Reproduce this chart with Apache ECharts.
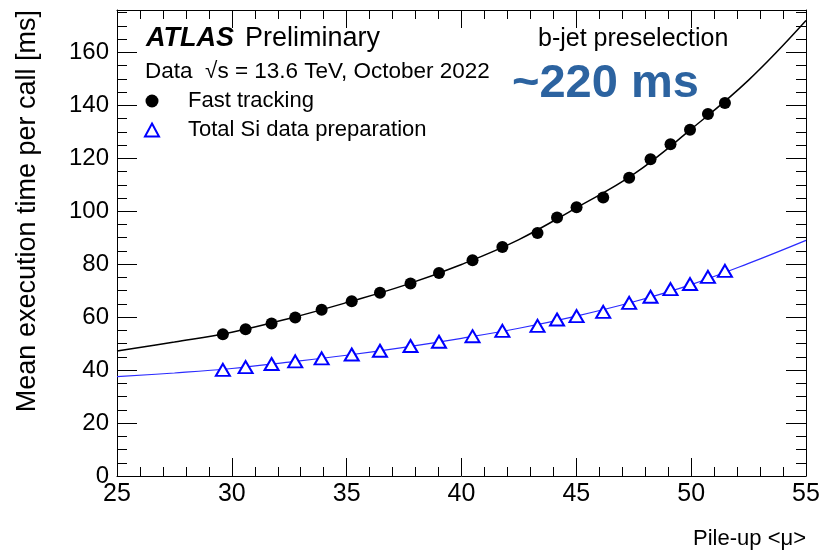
<!DOCTYPE html>
<html>
<head>
<meta charset="utf-8">
<script src="https://cdn.jsdelivr.net/npm/echarts@6/dist/echarts.min.js"></script>
<style>
  html, body { margin: 0; padding: 0; background: #fff; }
  #chart { width: 827px; height: 556px; }
</style>
</head>
<body>
<div id="chart"></div>
<script>
// pile-up values of the measured points (same for both series)
var pileUp = [29.61, 30.60, 31.73, 32.76, 33.91, 35.22, 36.45, 37.78, 39.02, 40.48, 41.78,
  43.31, 44.16, 45.01, 46.17, 47.30, 48.23, 49.10, 49.95, 50.73, 51.47]
// mean execution time per call [ms]
var fastTracking = [53.5, 55.4, 57.6, 59.9, 62.8, 66.0, 69.2, 72.7, 76.7, 81.5, 86.5,
  91.8, 97.6, 101.5, 105.2, 112.6, 119.6, 125.3, 130.8, 136.7, 140.9]
var siDataPrep = [40.1, 41.1, 42.3, 43.3, 44.4, 45.9, 47.3, 49.1, 50.7, 52.8, 54.8,
  56.7, 59.1, 60.4, 62.0, 65.4, 67.7, 70.6, 72.5, 75.2, 77.5]

// fit curves
var fitPileUp = [25, 27.5, 30, 32.5, 35, 37.5, 40, 42.5, 45, 47.5, 50, 52.5, 55]
var fastFit = [47.2, 50.6, 54.3, 59.5, 65.5, 72.0, 79.9, 89.3, 101.3, 114.0, 131.0, 149.5, 172.0]
var siFit = [37.5, 38.9, 40.6, 43.0, 45.6, 48.6, 52.0, 55.8, 60.4, 65.8, 72.3, 80.3, 89.0]

var seriesNames = ['Fast tracking', 'Total Si data preparation']

function pairs(xs, ys) {
  return xs.map(function (x, i) { return [x, ys[i]] })
}

var font = "'Liberation Sans', Arial, Helvetica, sans-serif"

var chart = echarts.init(document.getElementById('chart'), null, { renderer: 'canvas' })

function xAx(pos, labels) {
  return {
    type: 'value', position: pos, min: 25, max: 55, interval: 5,
    axisLine: { show: true, onZero: false, lineStyle: { color: '#000', width: 1 } },
    axisTick: { show: true, inside: true, length: 18, lineStyle: { color: '#000' } },
    minorTick: { show: true, splitNumber: 5, length: 9, lineStyle: { color: '#000' } },
    axisLabel: { show: labels, color: '#000', fontFamily: font, fontSize: 25, margin: 6 },
    splitLine: { show: false }
  }
}
function yAx(pos, step, tickLen, labels, line) {
  return {
    type: 'value', position: pos, min: 0, max: 176, interval: step,
    axisLine: { show: line, onZero: false, lineStyle: { color: '#000', width: 1 } },
    axisTick: { show: true, inside: true, length: tickLen, lineStyle: { color: '#000' } },
    axisLabel: { show: labels, color: '#000', fontFamily: font, fontSize: 24, margin: 8, showMaxLabel: false },
    splitLine: { show: false }
  }
}

var option = {
  backgroundColor: '#fff',
  animation: false,
  grid: { left: 117, right: 21, top: 10, bottom: 80, outerBoundsMode: 'none' },
  xAxis: [xAx('bottom', true), xAx('top', false)],
  yAxis: [
    yAx('left', 20, 20, true, true),
    yAx('left', 5, 10, false, false),
    yAx('right', 20, 20, false, true),
    yAx('right', 5, 10, false, false)
  ],
  legend: {
    data: seriesNames,
    orient: 'vertical',
    left: 144, top: 90, padding: 0,
    itemWidth: 14, itemHeight: 13, itemGap: 7,
    textStyle: { color: '#000', fontFamily: font, fontSize: 22, lineHeight: 22, padding: [0, 0, 0, 24] }
  },
  graphic: [
    { type: 'text', left: 146, top: 25, style: { text: 'ATLAS', font: 'italic bold 27px ' + font, fill: '#000' } },
    { type: 'text', left: 245, top: 25, style: { text: 'Preliminary', font: '27px ' + font, fill: '#000' } },
    { type: 'text', left: 145, top: 60, style: { text: 'Data  √s = 13.6 TeV, October 2022', font: '22.5px ' + font, fill: '#000' } },
    { type: 'text', left: 538, top: 27, style: { text: 'b-jet preselection', font: '25px ' + font, fill: '#000' } },
    { type: 'text', left: 512, top: 61, style: { text: '~220 ms', font: 'bold 47px ' + font, fill: '#2c63a0' } },
    {
      type: 'text', x: 28, y: 10, rotation: Math.PI / 2,
      style: { text: 'Mean execution time per call [ms]', font: '27px ' + font, fill: '#000', textAlign: 'right', textVerticalAlign: 'middle' }
    },
    {
      type: 'text', x: 806, y: 539,
      style: { text: 'Pile-up <μ>', font: '22px ' + font, fill: '#000', textAlign: 'right', textVerticalAlign: 'middle' }
    }
  ],
  series: [
    {
      name: 'Fast tracking fit', type: 'line', smooth: 0.4, showSymbol: false, silent: true,
      data: pairs(fitPileUp, fastFit), lineStyle: { color: '#000', width: 1.5 }, z: 2
    },
    {
      name: 'Total Si data preparation fit', type: 'line', smooth: 0.4, showSymbol: false, silent: true,
      data: pairs(fitPileUp, siFit), lineStyle: { color: '#2b2bff', width: 1.2 }, z: 2
    },
    {
      name: seriesNames[0], type: 'scatter', symbol: 'circle', symbolSize: 12,
      data: pairs(pileUp, fastTracking), itemStyle: { color: '#000', opacity: 1 }, z: 3
    },
    {
      name: seriesNames[1], type: 'scatter', symbol: 'emptyTriangle', symbolSize: [14, 12],
      data: pairs(pileUp, siDataPrep), itemStyle: { color: '#0000ff', borderColor: '#0000ff', borderWidth: 1.6, opacity: 1 }, z: 3
    }
  ]
}
chart.setOption(option)
</script>
</body>
</html>
